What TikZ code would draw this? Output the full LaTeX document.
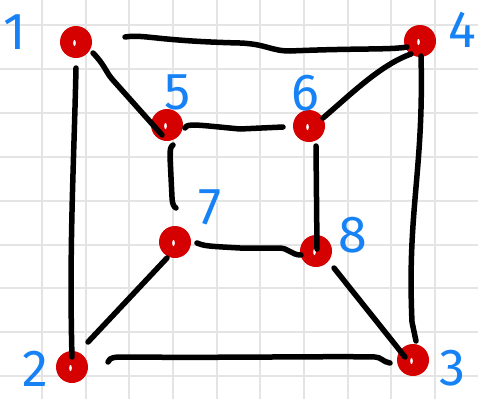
\documentclass[tikz,border=0pt]{standalone}
\usepackage{fontspec}
\setmainfont{Fira Sans}
\usetikzlibrary{calc}
\definecolor{blobred}{RGB}{213,0,0}
\definecolor{inkblue}{RGB}{22,130,245}
\definecolor{gridgray}{RGB}{228,228,228}
\tikzset{
  blob/.style={circle, fill=blobred, minimum size=32pt, inner sep=0pt,
    path picture={\fill[white] ($(path picture bounding box.center)+(-1.5pt,-1pt)$) ellipse (1.3pt and 3pt);}},
  edge/.style={line width=5.5pt, line cap=round, line join=round, black},
  lbl/.style={text=inkblue, font=\fontsize{52}{52}\selectfont, inner sep=0pt},
  gridline/.style={line width=2pt, gridgray}
}
\begin{document}
\begin{tikzpicture}[x=1pt,y=-1pt]
\useasboundingbox (0,0) rectangle (478,399);
\fill[white] (0,0) rectangle (478,399);
% grid
\foreach \i in {0,...,9} {
  \draw[gridline] ({42+43.65*\i},0) -- ({42+43.65*\i},399);
}
\foreach \j in {0,...,8} {
  \draw[gridline] (0,{25+43.9*\j}) -- (478,{25+43.9*\j});
}
% nodes
\node[blob] (n1) at (76,42) {};
\node[blob] (n2) at (72,367) {};
\node[blob] (n3) at (413,360) {};
\node[blob] (n4) at (420,41) {};
\node[blob] (n5) at (167,125) {};
\node[blob] (n6) at (309,126) {};
\node[blob] (n7) at (175,242) {};
\node[blob] (n8) at (316,251) {};
% labels
\node[lbl] (l1) at (15,32) {1};
\node[lbl] (l2) at (35,369) {2};
\node[lbl] (l3) at (452,368) {3};
\node[lbl] (l4) at (462,30) {4};
\node[lbl] (l5) at (178,92) {5};
\node[lbl] (l6) at (305,93) {6};
\node[lbl] (l7) at (210,207) {7};
\node[lbl] (l8) at (353,235) {8};
% edges
\draw[edge] ($(n1)+(49,-5)$) .. controls ($(n1)+(68,-8)$) and ($(n1)+(80,-1)$) .. ($(n1)+(164,1)$)
  .. controls ($(n1)+(190,2)$) and ($(n1)+(195,9)$) .. ($(n1)+(214,9)$)
  .. controls ($(n4)+(-60,7)$) and ($(n4)+(-30,9)$) .. ($(n4)+(-13,6)$);
\draw[edge] ($(n1)+(17,11)$) .. controls ($(n1)+(28,22)$) and ($(n1)+(30,30)$) .. ($(n1)+(36,37)$) -- ($(n5)+(-5,10)$);
\draw[edge] ($(n1)+(0,26)$) .. controls ($(n1)+(-2,120)$) and ($(n2)+(-3,-120)$) .. ($(n2)+(0,-10)$);
\draw[edge] ($(n5)+(18,3)$) .. controls ($(n5)+(20,-2)$) and ($(n5)+(30,0)$) .. ($(n5)+(73,4)$) -- ($(n6)+(-26,1)$);
\draw[edge] ($(n5)+(6,20)$) .. controls ($(n5)+(3,22)$) and ($(n5)+(3,26)$) .. ($(n5)+(3,32)$) -- ($(n7)+(-3,-45)$)
  .. controls ($(n7)+(-3,-38)$) and ($(n7)+(-1,-35)$) .. ($(n7)+(1,-34)$);
\draw[edge] ($(n6)+(14,-8)$) .. controls ($(n6)+(40,-30)$) and ($(n4)+(-40,24)$) .. ($(n4)+(-9,13)$);
\draw[edge] ($(n6)+(7,20)$) -- ($(n8)+(1,-2)$);
\draw[edge] ($(n4)+(1,15)$) .. controls ($(n4)+(4,130)$) and ($(n3)+(-6,-150)$) .. ($(n3)+(-1,-38)$) -- ($(n3)+(3,-19)$);
\draw[edge] ($(n7)+(22,1)$) .. controls ($(n7)+(30,4)$) .. ($(n7)+(65,6)$) -- ($(n8)+(-37,-3)$)
  .. controls ($(n8)+(-27,-3)$) and ($(n8)+(-25,4)$) .. ($(n8)+(-15,4)$);
\draw[edge] ($(n7)+(-8,16)$) -- ($(n2)+(16,-25)$);
\draw[edge] ($(n8)+(18,17)$) -- ($(n3)+(-8,-3)$);
\draw[edge] ($(n2)+(36,-5)$) .. controls ($(n2)+(38,-10)$) and ($(n2)+(42,-10)$) .. ($(n2)+(55,-10)$)
  .. controls ($(n2)+(150,-9)$) and ($(n3)+(-80,-4)$) .. ($(n3)+(-38,-3)$)
  .. controls ($(n3)+(-32,-3)$) and ($(n3)+(-30,2)$) .. ($(n3)+(-23,3)$);
\end{tikzpicture}
\end{document}
